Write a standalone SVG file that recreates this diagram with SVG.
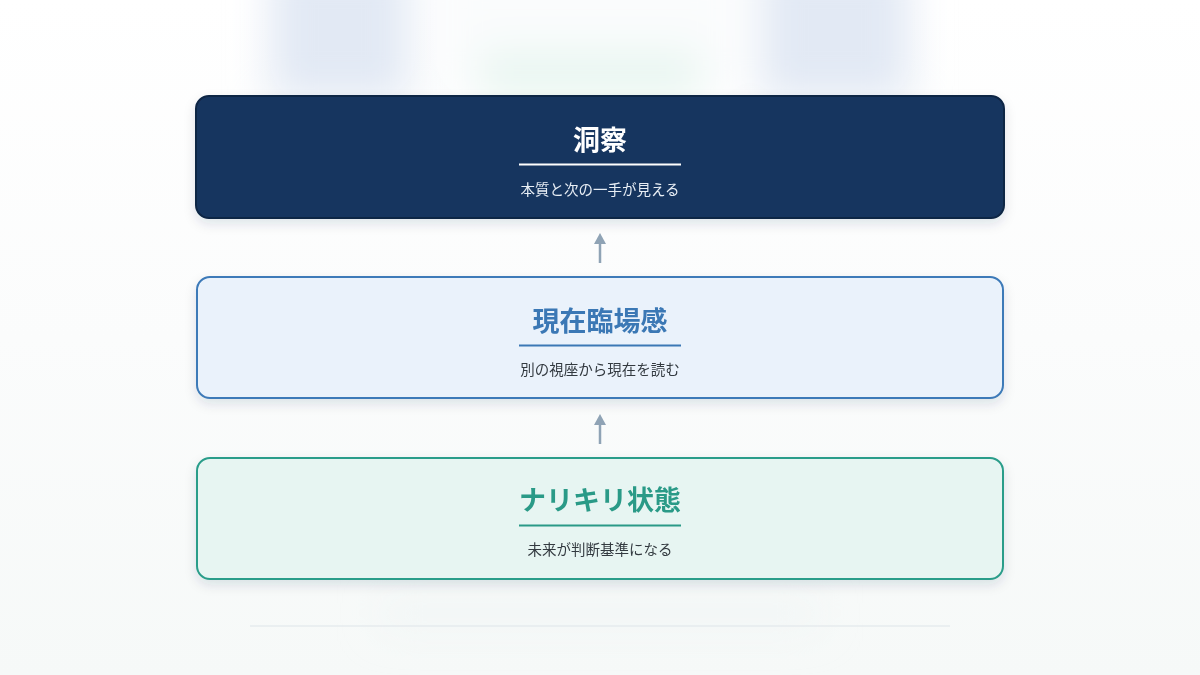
<svg xmlns="http://www.w3.org/2000/svg" width="1200" height="675" viewBox="0 0 1200 675">
  <defs>
    <linearGradient id="bg" x1="0" y1="0" x2="0" y2="1">
      <stop offset="0" stop-color="#ffffff"/>
      <stop offset="0.5" stop-color="#fbfcfc"/>
      <stop offset="1" stop-color="#f6f9f8"/>
    </linearGradient>
    <filter id="blur" x="-50%" y="-50%" width="200%" height="200%">
      <feGaussianBlur stdDeviation="20"/>
    </filter>
    <filter id="shadow" x="-10%" y="-30%" width="120%" height="170%">
      <feDropShadow dx="0" dy="5" stdDeviation="6" flood-color="#1b365d" flood-opacity="0.12"/>
    </filter>
    <marker id="arrow" markerWidth="12" markerHeight="12" refX="2" refY="6" orient="auto" markerUnits="userSpaceOnUse">
      <path d="M0,0 L11,6 L0,12 Z" fill="#8fa3b5"/>
    </marker>
    <style>
      .title { font-family: "Noto Sans CJK JP", "Noto Sans", sans-serif; font-weight: 700; font-size: 27px; text-anchor: middle; }
      .sub { font-family: "Noto Sans CJK JP", "Noto Sans", sans-serif; font-size: 14.5px; text-anchor: middle; }
      .conn { stroke: #8fa3b5; stroke-width: 2.5; fill: none; }
    </style>
  </defs>

  <rect width="1200" height="675" fill="url(#bg)"/>
  <g filter="url(#blur)">
    <rect x="270" y="-40" width="140" height="140" fill="#e2e9f4"/>
    <rect x="760" y="-40" width="150" height="140" fill="#e2e9f4"/>
    <rect x="440" y="-40" width="300" height="140" fill="#fafcfd"/>
    <rect x="480" y="50" width="220" height="50" fill="#e9f6f1"/>
    <rect x="380" y="598" width="440" height="30" fill="#eef3f3" opacity="0.6"/>
  </g>

  <line x1="250" y1="626" x2="950" y2="626" stroke="#e6ebee" stroke-width="1.5"/>

  <g id="connectors">
    <line class="conn" x1="600" y1="263" x2="600" y2="242" marker-end="url(#arrow)"/>
    <line class="conn" x1="600" y1="444" x2="600" y2="423" marker-end="url(#arrow)"/>
  </g>

  <g id="node-dousatsu">
    <rect x="196" y="96" width="808" height="122" rx="13" fill="#19365e" stroke="#0f2545" stroke-width="2" filter="url(#shadow)"/>
    <text class="title" x="600" y="150" fill="#ffffff">洞察</text>
    <line x1="519" y1="164.5" x2="681" y2="164.5" stroke="#ffffff" stroke-width="2"/>
    <text class="sub" x="600" y="195" fill="#e8eef5">本質と次の一手が見える</text>
  </g>

  <g id="node-genzai">
    <rect x="197" y="277" width="806" height="121" rx="13" fill="#eaf2fb" stroke="#3d7ab8" stroke-width="2" filter="url(#shadow)"/>
    <text class="title" x="600" y="331" fill="#3b78b5">現在臨場感</text>
    <line x1="519" y1="345.5" x2="681" y2="345.5" stroke="#3b78b5" stroke-width="2"/>
    <text class="sub" x="600" y="375" fill="#333a40">別の視座から現在を読む</text>
  </g>

  <g id="node-narikiri">
    <rect x="197" y="458" width="806" height="121" rx="13" fill="#e7f5f2" stroke="#2a9d8a" stroke-width="2" filter="url(#shadow)"/>
    <text class="title" x="600" y="510" fill="#2a9a87">ナリキリ状態</text>
    <line x1="519" y1="525.5" x2="681" y2="525.5" stroke="#2a9a87" stroke-width="2"/>
    <text class="sub" x="600" y="555" fill="#333a40">未来が判断基準になる</text>
  </g>
</svg>
